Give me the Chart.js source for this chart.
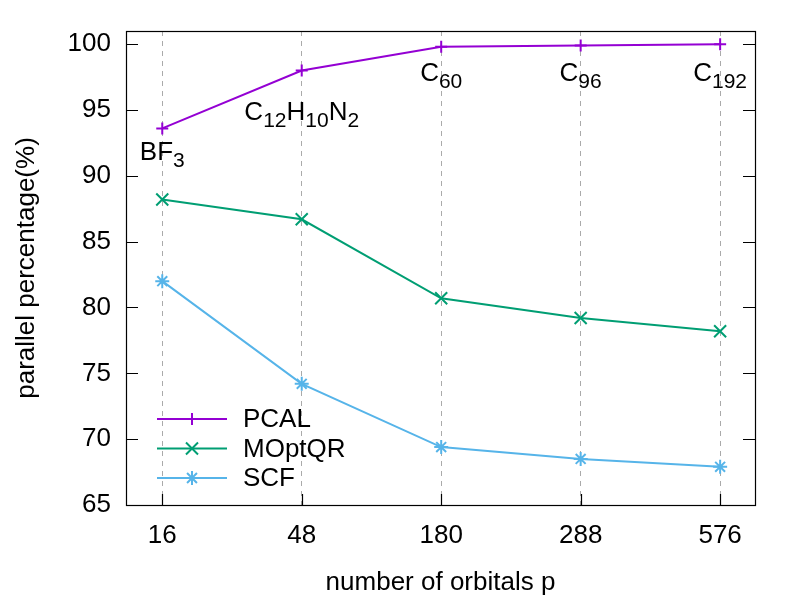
<!DOCTYPE html>
<html>
<head>
<meta charset="utf-8">
<script src="https://cdn.jsdelivr.net/npm/chart.js@4.4.1/dist/chart.umd.min.js"></script>
<style>
html, body { margin: 0; padding: 0; background: #fff; }
</style>
</head>
<body>
<canvas id="myChart" width="800" height="600"></canvas>
<script>
"use strict";

//Number of orbitals (x categories) and the molecule for each one.
var orbitals = ["16", "48", "180", "288", "576"];
var molecules = ["BF_3", "C_{12}H_{10}N_2", "C_{60}", "C_{96}", "C_{192}"];
//Where the molecule name sits, in percent units.
var moleculeY = [91.9, 94.95, 97.9, 97.9, 97.9];

//Parallel percentage of each method.
var pcal = [93.6, 98.0, 99.8, 99.9, 100.0];
var moptqr = [88.2, 86.7, 80.7, 79.2, 78.2];
var scf = [82.0, 74.2, 69.4, 68.5, 67.9];

var yTicks = [65, 70, 75, 80, 85, 90, 95, 100];

var FONT = "'Liberation Sans', Arial, Helvetica, sans-serif";
var FONT_SIZE = 26;

function toPoints(values) {
    return values.map(function (v, i) { return { x: i, y: v }; });
}

//Splits "C_{12}H_2" into normal and subscript pieces.
function parseFormula(text) {
    var parts = [];
    var re = /_\{([^}]*)\}|_(.)|([^_]+)/g;
    var m;
    while ((m = re.exec(text)) !== null) {
        if (m[1] !== undefined) parts.push({ t: m[1], sub: true });
        else if (m[2] !== undefined) parts.push({ t: m[2], sub: true });
        else parts.push({ t: m[3], sub: false });
    }
    return parts;
}

//Inner tick marks and the box round the plot.
var frame = {
    id: 'frame',
    afterDatasetsDraw: function (chart) {
        var ctx = chart.ctx;
        var a = chart.chartArea;
        var x = chart.scales.x, y = chart.scales.y;
        ctx.save();
        ctx.strokeStyle = '#000';
        ctx.lineWidth = 1.2;
        ctx.beginPath();
        yTicks.forEach(function (v) {
            var py = Math.round(y.getPixelForValue(v)) + 0.5;
            ctx.moveTo(a.left, py); ctx.lineTo(a.left + 12, py);
            ctx.moveTo(a.right, py); ctx.lineTo(a.right - 12, py);
        });
        orbitals.forEach(function (o, i) {
            var px = Math.round(x.getPixelForValue(i)) + 0.5;
            ctx.moveTo(px, a.bottom); ctx.lineTo(px, a.bottom - 11);
        });
        ctx.stroke();
        ctx.strokeRect(Math.round(a.left) + 0.5, Math.round(a.top) + 0.5,
            Math.round(a.right - a.left), Math.round(a.bottom - a.top));
        ctx.restore();
    }
};

//Molecule names with subscripts.
var formulas = {
    id: 'formulas',
    afterDatasetsDraw: function (chart) {
        var ctx = chart.ctx;
        var x = chart.scales.x, y = chart.scales.y;
        var mainFont = FONT_SIZE + "px " + FONT;
        var subFont = Math.round(FONT_SIZE * 0.82) + "px " + FONT;
        ctx.save();
        ctx.fillStyle = '#000';
        ctx.textBaseline = 'alphabetic';
        ctx.textAlign = 'left';
        molecules.forEach(function (name, i) {
            var parts = parseFormula(name);
            var width = 0;
            parts.forEach(function (p) {
                ctx.font = p.sub ? subFont : mainFont;
                p.w = ctx.measureText(p.t).width;
                width += p.w;
            });
            var cx = x.getPixelForValue(i);
            var base = y.getPixelForValue(moleculeY[i]) + FONT_SIZE * 0.716 / 2;
            var px = cx - width / 2;
            parts.forEach(function (p) {
                ctx.font = p.sub ? subFont : mainFont;
                ctx.fillText(p.t, px, p.sub ? base + 7 : base);
                px += p.w;
            });
        });
        ctx.restore();
    }
};

//Legend inside the plot, bottom left.
var innerLegend = {
    id: 'innerLegend',
    afterDatasetsDraw: function (chart) {
        var ctx = chart.ctx;
        var a = chart.chartArea;
        ctx.save();
        ctx.font = FONT_SIZE + "px " + FONT;
        ctx.textBaseline = 'middle';
        ctx.textAlign = 'left';
        chart.data.datasets.forEach(function (ds, i) {
            var rowY = a.bottom - 86 + i * 29.5;
            ctx.strokeStyle = ds.borderColor;
            ctx.lineWidth = ds.borderWidth;
            ctx.beginPath();
            ctx.moveTo(a.left + 31, rowY);
            ctx.lineTo(a.left + 101, rowY);
            ctx.stroke();
            ctx.lineWidth = ds.pointBorderWidth;
            Chart.helpers.drawPoint(ctx, {
                pointStyle: ds.pointStyle,
                radius: ds.pointRadius,
                rotation: 0,
                borderWidth: ds.pointBorderWidth
            }, a.left + 66, rowY);
            ctx.fillStyle = '#000';
            ctx.fillText(ds.label, a.left + 117, rowY + 1);
        });
        ctx.restore();
    }
};

var ctx = document.getElementById('myChart').getContext('2d');
var myChart = new Chart(ctx, {
    type: 'line',
    data: {
        datasets: [{
            label: 'PCAL',
            data: toPoints(pcal),
            borderColor: '#9400d3',
            backgroundColor: '#9400d3',
            pointStyle: 'cross',
            pointRadius: 6,
            pointBorderWidth: 2,
            borderWidth: 2
        }, {
            label: 'MOptQR',
            data: toPoints(moptqr),
            borderColor: '#009e73',
            backgroundColor: '#009e73',
            pointStyle: 'crossRot',
            pointRadius: 8.5,
            pointBorderWidth: 2,
            borderWidth: 2
        }, {
            label: 'SCF',
            data: toPoints(scf),
            borderColor: '#56b4e9',
            backgroundColor: '#56b4e9',
            pointStyle: 'star',
            pointRadius: 7,
            pointBorderWidth: 2,
            borderWidth: 2
        }]
    },
    options: {
        responsive: false,
        animation: false,
        devicePixelRatio: 1,
        layout: { padding: { top: 31, right: 45, left: 0, bottom: 0 } },
        plugins: {
            legend: { display: false },
            tooltip: { enabled: false }
        },
        scales: {
            x: {
                type: 'linear',
                min: -0.26,
                max: 4.25,
                afterBuildTicks: function (scale) {
                    scale.ticks = orbitals.map(function (o, i) { return { value: i }; });
                },
                afterFit: function (scale) { scale.height = 95; },
                ticks: {
                    padding: 15,
                    color: '#000',
                    font: { family: FONT, size: FONT_SIZE },
                    callback: function (v) { return orbitals[v]; }
                },
                grid: { color: '#aaaaaa', lineWidth: 1, drawTicks: false },
                border: { display: false, dash: [5, 5] },
                title: {
                    display: true,
                    text: 'number of orbitals p',
                    color: '#000',
                    font: { family: FONT, size: FONT_SIZE },
                    padding: { top: 0, bottom: 2 }
                }
            },
            y: {
                min: 65,
                max: 101,
                afterBuildTicks: function (scale) {
                    scale.ticks = yTicks.map(function (v) { return { value: v }; });
                },
                afterFit: function (scale) { scale.width = 126; },
                ticks: {
                    padding: 15,
                    color: '#000',
                    font: { family: FONT, size: FONT_SIZE }
                },
                grid: { display: false, drawTicks: false },
                border: { display: false },
                title: {
                    display: true,
                    text: 'parallel percentage(%)',
                    color: '#000',
                    font: { family: FONT, size: FONT_SIZE },
                    padding: { top: 11, bottom: 0 }
                }
            }
        }
    },
    plugins: [frame, formulas, innerLegend]
});
</script>
</body>
</html>
